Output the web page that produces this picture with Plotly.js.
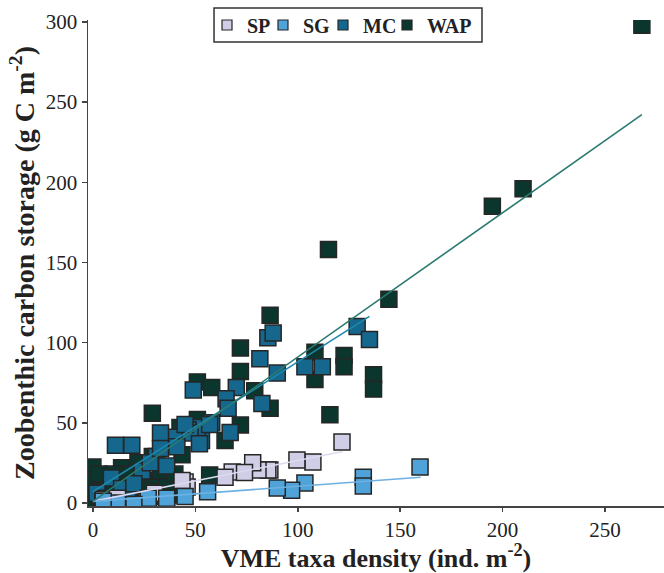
<!DOCTYPE html>
<html>
<head>
<meta charset="utf-8">
<script src="https://cdn.plot.ly/plotly-3.0.1.min.js"></script>
<style>html,body{margin:0;padding:0;background:#fff;}#chart{width:664px;height:573px;}</style>
</head>
<body>
<div id="chart"></div>
<script>
// ---- data ----
const seriesNames = ["SP", "SG", "MC", "WAP"];

const wapX = [268, 210, 195, 144.5, 115, 115.7, 137, 137, 122.6, 122.6, 108.4, 108.4, 86.5, 72, 72, 51, 58, 79, 86.5, 72, 51, 42.5, 29, 64.5, 43.5, 29, 57, 42.5, 0, 0, 0, 0, 7, 7, 14, 14, 14, 21.5, 21.5, 29, 29, 36, 36, 22, 18, 4, 10, 25, 33, 40, 3, 10, 18, 25, 32, 4, 10, 18];
const wapY = [298, 196, 185, 127, 158, 55, 80, 71, 92, 85, 94, 77, 117, 96.6, 82, 75.5, 72, 70, 59, 48.6, 52, 47, 56, 39, 30, 29, 17.5, 5, 22.4, 14, 4, -1, 11, 0, 22, 13, 3, 10, 3, 14, 7, 12, 2, 25, 18, 7, 6, 0, 20, 18, 18, 18, 5, 8, 4, -1, -1, -1];

const mcX = [129, 135, 85.4, 88, 81.5, 90, 103.5, 112, 70, 49, 82.5, 65, 66, 67, 53, 58, 51, 46.5, 40, 33, 47.4, 57, 45, 11, 19, 24, 9, 31, 28, 33, 41, 52, 2, 5, 14, 20, 17, 26, 36];
const mcY = [110, 102, 103, 106, 90, 81, 85, 85, 72, 70.5, 62, 65, 59, 44, 39, 50, 47, 45.5, 41, 43.7, 43.7, 49, 49, 36, 36, 20, 15.6, 29, 25, 34, 35, 37, 6, 3, 9, 12, 2, 1, 23];

const spX = [121.6, 107.4, 99.6, 86.4, 85.4, 80.6, 78, 68, 64.5, 74, 45, 46, 43.5, 5, 12, 30];
const spY = [38, 25.6, 26.8, 20.6, 20.6, 20.6, 25, 19.3, 16, 19, 13, 10, 14, 2, 3, 6];

const sgX = [159.7, 132, 132, 103.5, 97, 90, 56, 36, 27, 45, 20, 12, 5];
const sgY = [22.4, 16, 10.6, 12.5, 8, 9.4, 7, 3, 3, 4, -1, 0, 1];

// trend lines: [intercept, slope, xEnd]
const spFit = [1, 0.255, 122];
const sgFit = [1, 0.094, 160];
const mcFit = [7, 0.81, 135];
const wapFit = [1, 0.9, 268];

const xTicks = [0, 50, 100, 150, 200, 250];
const yTicks = [0, 50, 100, 150, 200, 250, 300];

// ---- styles ----
const fill = {SP: "#d0cee6", SG: "#4fa3d9", MC: "#15678e", WAP: "#0a362d"};
const lineCol = {SP: "#dcdaf0", SG: "#6db0e2", MC: "#1d88ab", WAP: "#2a7a70"};
const edge = {color: "#262626", width: 1.5};
const serif = "Liberation Serif, Times New Roman, serif";
const legendIds = ["legend", "legend2", "legend3", "legend4"];
const legendLeft = [0.2066, 0.3038, 0.408, 0.5191];   // paper x of each legend entry

function pts(name, xs, ys) {
  return {type: "scatter", mode: "markers", x: xs, y: ys, name: name, showlegend: false,
    marker: {symbol: "square", size: 16, color: fill[name], line: edge}, hoverinfo: "skip"};
}
function fit(name, f) {
  const xs = [0, f[2]];
  return {type: "scatter", mode: "lines", x: xs, y: xs.map(v => f[0] + f[1] * v), name: name + " fit",
    showlegend: false, line: {color: lineCol[name], width: 1.6}, hoverinfo: "skip"};
}
function leg(name, i) {
  return {type: "scatter", mode: "markers", x: [null], y: [null], name: name, showlegend: true, legend: legendIds[i],
    marker: {symbol: "square", size: 10, color: fill[name], line: {color: "#262626", width: 1.2}}};
}

const traces = [
  pts("WAP", wapX, wapY),
  pts("MC", mcX, mcY),
  pts("SP", spX, spY),
  pts("SG", sgX, sgY),
  fit("SP", spFit), fit("SG", sgFit), fit("MC", mcFit), fit("WAP", wapFit)
];
seriesNames.forEach((n, i) => traces.push(leg(n, i)));

const layout = {
  width: 664, height: 573,
  margin: {l: 88, r: 0, t: 20, b: 67},
  paper_bgcolor: "#fff", plot_bgcolor: "#fff",
  font: {family: serif, color: "#222", size: 20},
  xaxis: {
    range: [-2.4, 278.8], tickvals: xTicks, ticktext: xTicks.map(String),
    showgrid: false, zeroline: false, showline: true, linecolor: "#444", linewidth: 1.5,
    ticks: "outside", ticklen: 4, tickcolor: "#444", tickwidth: 1.5,
    tickfont: {family: serif, size: 21, color: "#222"},
    title: {text: "<b>VME taxa density (ind. m<sup>-2</sup>)</b>", font: {family: serif, size: 26, color: "#222"}, standoff: 4}
  },
  yaxis: {
    range: [-1.9, 301.2], tickvals: yTicks, ticktext: yTicks.map(String),
    showgrid: false, zeroline: false, showline: true, linecolor: "#444", linewidth: 1.5,
    ticks: "outside", ticklen: 5, tickcolor: "#444", tickwidth: 1.5,
    tickfont: {family: serif, size: 21, color: "#222"},
    title: {text: "<b>Zoobenthic carbon storage (g C m<sup>-2</sup>)</b>", font: {family: serif, size: 28, color: "#222"}, standoff: 3}
  },
  shapes: [{type: "rect", xref: "paper", yref: "paper", x0: 0.2188, x1: 0.684, y0: 0.9547, y1: 1.0247,
    line: {color: "#333", width: 1.5}, fillcolor: "#fff", layer: "above"}],
  showlegend: true
};
legendIds.forEach((id, i) => {
  layout[id] = {
    orientation: "h", x: legendLeft[i], xanchor: "left", y: 0.9897, yanchor: "middle",
    bgcolor: "rgba(0,0,0,0)", borderwidth: 0,
    font: {family: serif, size: 20, color: "#222", weight: "bold"},
    itemwidth: 30
  };
});

Plotly.newPlot("chart", traces, layout, {displayModeBar: false, staticPlot: true});
</script>
</body>
</html>
